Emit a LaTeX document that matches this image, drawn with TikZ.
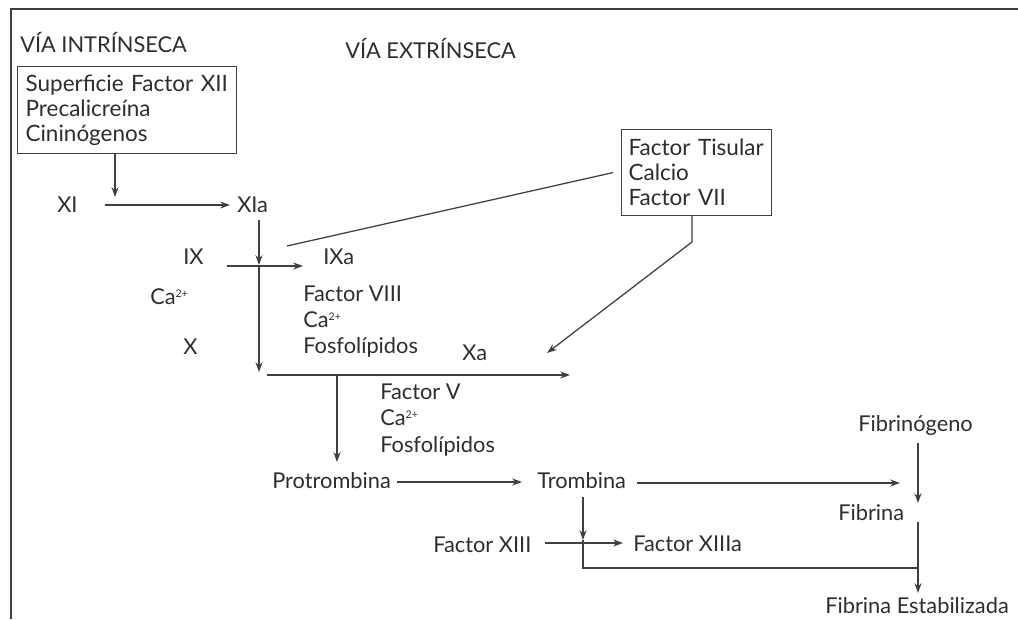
\documentclass[tikz,border=0pt]{standalone}
\usepackage{fontspec}
\setmainfont{Lato}
\usetikzlibrary{arrows.meta,calc}
\definecolor{ink}{HTML}{2E2E2E}
\definecolor{lineink}{HTML}{404040}
\newcommand{\cados}{Ca\raisebox{0.65ex}{\fontsize{7.5}{8}\selectfont 2+}}
\begin{document}
\begin{tikzpicture}[x=0.025cm,y=-0.025cm,
  lbl/.style={anchor=west,inner sep=0,text=ink,font=\fontsize{15.5}{17}\selectfont},
  multi/.style={lbl,align=left},
  boxed/.style={draw=lineink,line width=0.8pt,anchor=north west,align=left,text=ink,
    font=\fontsize{16}{17.8}\selectfont},
  con/.style={draw=lineink,line width=0.9pt},
  arr/.style={con,-{Stealth[length=7pt,width=5pt]}}]
\useasboundingbox (0,0) rectangle (1018,619);
\fill[white] (0,0) rectangle (1018,619);
% frame
\draw[draw=lineink,line width=1.2pt] (1018,9) -- (11,9) -- (11,619);

% titles
\node[lbl] (vi) at (20,42) {VÍA INTRÍNSECA};
\node[lbl] (ve) at (345,48) {VÍA EXTRÍNSECA};

% boxes
\node[boxed,minimum width=5.475cm,minimum height=2.175cm,inner xsep=0.2cm,text width=5.075cm]
  (box1) at (17,66) {Superficie Factor XII\\Precalicreína\\Cininógenos};
\node[boxed,minimum width=3.75cm,minimum height=2.15cm,inner xsep=0.175cm,text width=3.4cm]
  (box2) at (621,129) {Factor Tisular\\Calcio\\Factor VII};

% labels
\node[lbl] (XI) at (57,205) {XI};
\node[lbl] (XIa) at (237,205) {XIa};
\node[lbl] (IX) at (183,257) {IX};
\node[lbl] (IXa) at (323,257) {IXa};
\node[lbl] (ca1) at (150,297) {\cados};
\node[lbl] (X) at (183,347) {X};
\node[multi,font=\fontsize{15.5}{18.5}\selectfont] (cof1) at (303,322) {Factor VIII\\\cados\\Fosfolípidos};
\node[lbl] (Xa) at (462,353) {Xa};
\node[multi,font=\fontsize{15.5}{19}\selectfont] (cof2) at (380,420) {Factor V\\\cados\\Fosfolípidos};
\node[lbl] (Prot) at (272,481) {Protrombina};
\node[lbl] (Trom) at (537,481) {Trombina};
\node[lbl] (Fgen) at (858,425) {Fibrinógeno};
\node[lbl] (Fib) at (838,513) {Fibrina};
\node[lbl] (FE) at (825,606) {Fibrina Estabilizada};
\node[lbl] (F13) at (433,545) {Factor XIII};
\node[lbl] (F13a) at (633,544) {Factor XIIIa};

% junction coordinates
\coordinate (j1) at (115,197);
\coordinate (j2) at (259,265);
\coordinate (j3) at (259,372);
\coordinate (h1) at (267,375);
\coordinate (h2) at (570,375);
\coordinate (v1) at (337,375);
\coordinate (k1) at (692,242);
\coordinate (j4) at (583,540);
\coordinate (j5) at (583,568);
\coordinate (j6) at (918,568);

% connectors
\draw[arr] (box1.south -| j1) -- (j1);
\draw[arr] ($(XI.west)+(48,0)$) -- ($(XIa.west)+(-7,0)$);
\draw[arr] ($(XIa.west)+(22,15)$) -- (j2);
\draw[arr] (j2) -- (j3);
\draw[arr] ($(IX.west)+(44,9)$) -- ($(IXa.west)+(-20,9)$);
\draw[con] ($(box2.west)+(-8,0)$) -- ($(IXa.west)+(-36,-11)$);
\draw[arr] (box2.south -| k1) -- (k1) -- ($(Xa.west)+(85,0)$);
\draw[arr] (h1) -- (h2);
\draw[arr] (v1) -- ($(Prot.west)+(65,-19)$);
\draw[arr] ($(Prot.west)+(125,1)$) -- ($(Trom.west)+(-15,1)$);
\draw[arr] ($(Trom.west)+(100,2)$) -- ($(Fib.west)+(62,-30)$);
\draw[arr] ($(Fgen.west)+(60,18)$) -- ($(Fib.west)+(80,-10)$);
\draw[arr] ($(Fib.west)+(80,9)$) -- ($(FE.west)+(93,-13)$);
\draw[arr] ($(Trom.west)+(46,16)$) -- (j4);
\draw[con] (j4) -- (j5) -- (j6);
\draw[arr] ($(F13.west)+(112,-2)$) -- ($(F13a.west)+(-10,-1)$);
\end{tikzpicture}
\end{document}
